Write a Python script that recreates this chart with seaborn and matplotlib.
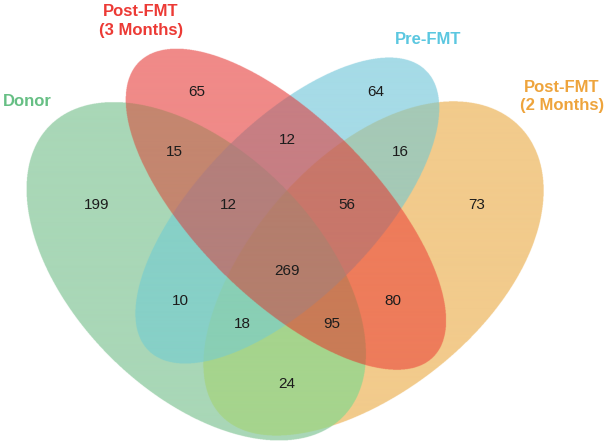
import numpy as np
import matplotlib
matplotlib.use("Agg")
import matplotlib.pyplot as plt
import seaborn as sns

# ---- data ----
set_names = ["Donor", "Post-FMT\n(3 Months)", "Pre-FMT", "Post-FMT\n(2 Months)"]
# regions as the indices of the sets they belong to
region_sets = ["0", "1", "2", "3", "01", "12", "23", "03", "02", "13",
               "012", "123", "023", "013", "0123"]
counts = [199, 65, 64, 73, 15, 12, 16, 24, 10, 80, 12, 56, 18, 95, 269]

# ---- layout / style ----
# ellipse shapes: centre x, centre y, semi-major, semi-minor, angle (deg), egg factor
shapes = [(196.3, 271.7, 206.4, 121.2, 44.7, -0.001),
          (286.2, 210.0, 208.1, 89.5, 45.0, -0.011),
          (287.3, 211.1, 196.9, 87.3, 134.8, -0.002),
          (370.8, 271.8, 207.6, 116.7, 136.1, -0.081)]
count_xy = [(97, 205), (197, 92), (376, 92), (477, 205), (174, 152), (287, 140),
            (400, 152), (287, 384), (180, 301), (393, 301), (228, 205), (347, 205),
            (242, 324), (332, 324), (287, 271)]
region_colors = ["#A9D7B7", "#F08A88", "#A6DBE7", "#F2CB8C", "#C4866F", "#C77E83",
                 "#A5C9B6", "#A6D48D", "#87D0C7", "#EE7C5B", "#B47F7B", "#C8776A",
                 "#89CFB5", "#C97B56", "#B47E6D"]
label_colors = sns.color_palette(["#66BF84", "#EC3A35", "#5BC7E0", "#EEA43C"])
label_xy = [(3, 101, "left"), (141, 21, "center"), (428, 39, "center"), (562, 96, "center")]

sns.set_theme(style="white")
plt.rcParams['font.family'] = ['Liberation Sans', 'DejaVu Sans']

fig = plt.figure(figsize=(6.08, 4.44), dpi=100, facecolor="white")
ax = fig.add_axes([0, 0, 1, 1])

# membership of every (supersampled) pixel in the four shapes
sc = 3
xs = (np.arange(608 * sc) + 0.5) / sc
ys = (np.arange(444 * sc) + 0.5) / sc
X, Y = np.meshgrid(xs, ys)
code = np.zeros(X.shape, int)
for i, (cx, cy, a, b, ang, k) in enumerate(shapes):
    c, s = np.cos(np.radians(ang)), np.sin(np.radians(ang))
    u = (X - cx) * c + (Y - cy) * s
    v = -(X - cx) * s + (Y - cy) * c
    w = b * (1 + k * u / a)
    inside = ((u / a) ** 2 + (v / w) ** 2 <= 1) & (w > 0)
    code += inside.astype(int) << i

table = np.ones((16, 3))
for reg, col in zip(region_sets, region_colors):
    table[sum(1 << int(ch) for ch in reg)] = matplotlib.colors.to_rgb(col)
ax.imshow(table[code], extent=(0, 608, 444, 0), interpolation="antialiased")

for n, (x, y) in zip(counts, count_xy):
    ax.text(x, y, str(n), fontsize=11, color="#1c1c1c", ha="center", va="center")

for name, col, (x, y, ha) in zip(set_names, label_colors, label_xy):
    ax.text(x, y, name, fontsize=12, fontweight="bold", color=col,
            ha=ha, va="center", linespacing=1.25, multialignment="center")

ax.set_xlim(0, 608)
ax.set_ylim(444, 0)
ax.axis("off")
fig.savefig("out.png", dpi=100, facecolor="white")
